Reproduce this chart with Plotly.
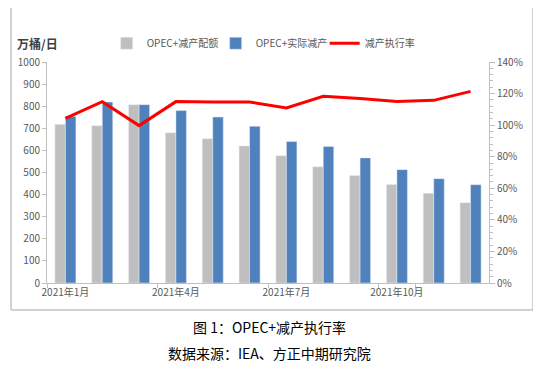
import plotly.graph_objects as go

months = ["2021年1月", "2021年2月", "2021年3月", "2021年4月", "2021年5月", "2021年6月",
          "2021年7月", "2021年8月", "2021年9月", "2021年10月", "2021年11月", "2021年12月"]
quota = [718, 712, 807, 680, 653, 620, 576, 526, 486, 446, 406, 363]
actual = [754, 819, 807, 780, 751, 709, 640, 618, 566, 513, 472, 445]
rate = [1.043, 1.149, 0.997, 1.149, 1.147, 1.147, 1.109, 1.183, 1.168, 1.149, 1.157, 1.214]
tick_months = ["2021年1月", "2021年4月", "2021年7月", "2021年10月"]

FONT = "Noto Sans CJK SC"
GRAY_TXT = "#595959"

fig = go.Figure()
fig.add_trace(go.Bar(x=months, y=quota, name="OPEC+减产配额", marker_color="#bfbfbf"))
fig.add_trace(go.Bar(x=months, y=actual, name="OPEC+实际减产", marker_color="#4f81bd"))
fig.add_trace(go.Scatter(x=months, y=rate, name="减产执行率", mode="lines",
                         line=dict(color="#ff0000", width=3), yaxis="y2"))

fig.update_layout(
    width=533, height=360,
    margin=dict(l=39, r=52, t=54, b=85, autoexpand=False),
    paper_bgcolor="white", plot_bgcolor="white",
    font=dict(family=FONT, size=10, color=GRAY_TXT),
    barmode="group", bargap=0.43, bargroupgap=0,
    showlegend=True,
    legend=dict(orientation="h", x=0.135, y=1.085, xanchor="left", yanchor="middle",
                font=dict(size=10, color=GRAY_TXT), bgcolor="rgba(0,0,0,0)",
                itemwidth=30, entrywidth=64, entrywidthmode="pixels", traceorder="normal"),
    xaxis=dict(type="category", tickmode="array", tickvals=tick_months, ticktext=tick_months,
               tickangle=0,
               showline=True, linecolor="#bfbfbf", linewidth=1, ticks="outside",
               tickson="boundaries", ticklen=4, tickcolor="#bfbfbf",
               showgrid=False, tickfont=dict(size=10, color=GRAY_TXT)),
    yaxis=dict(range=[0, 1000], dtick=100, showline=True, linecolor="#bfbfbf",
               ticks="outside", ticklen=4, tickcolor="#bfbfbf", showgrid=False,
               zeroline=False, tickfont=dict(size=10, color=GRAY_TXT)),
    yaxis2=dict(range=[0, 1.4], dtick=0.2, tickformat=".0%", overlaying="y", side="right",
                showline=True, linecolor="#bfbfbf", ticks="outside", ticklen=5,
                tickcolor="#bfbfbf", showgrid=False, zeroline=False,
                minor=dict(ticks="outside", ticklen=3, tickcolor="#bfbfbf", dtick=0.04),
                tickfont=dict(size=10, color=GRAY_TXT)),
)

# Outer border box
fig.add_shape(type="rect", xref="paper", yref="paper", x0=-0.0814, x1=1.0995,
              y0=-0.122, y1=1.249, line=dict(color="#a6a6a6", width=1), layer="below")

fig.add_annotation(text="<b>万桶/日</b>", xref="paper", yref="paper", x=-0.072, y=1.085,
                   xanchor="left", yanchor="middle", showarrow=False,
                   font=dict(size=12, color="#404040", family=FONT))
fig.add_annotation(text="图 1：OPEC+减产执行率", xref="paper", yref="paper", x=0.5045, y=-0.199,
                   xanchor="center", yanchor="middle", showarrow=False,
                   font=dict(size=14, color="#000000", family=FONT))
fig.add_annotation(text="数据来源：IEA、方正中期研究院", xref="paper", yref="paper", x=0.5045, y=-0.317,
                   xanchor="center", yanchor="middle", showarrow=False,
                   font=dict(size=14, color="#000000", family=FONT))

fig.write_html("out.html")
